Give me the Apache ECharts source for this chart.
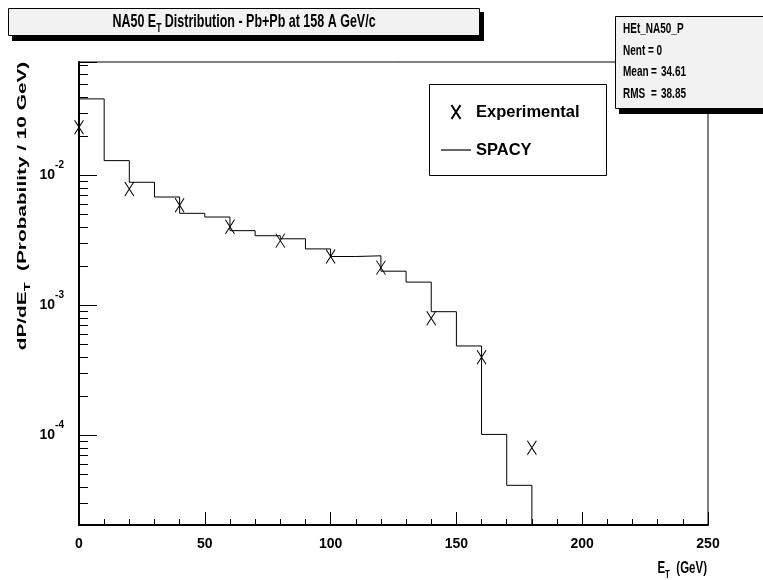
<!DOCTYPE html>
<html>
<head>
<meta charset="utf-8">
<script src="https://cdn.jsdelivr.net/npm/echarts@6/dist/echarts.min.js"></script>
<style>
html,body{margin:0;padding:0;background:#fff;}
#c{width:763px;height:580px;}
</style>
</head>
<body>
<div id="c"></div>
<script>
// ---- data ----
const binEdges = [0, 10, 20, 30, 40, 50, 60, 70, 80, 90, 100, 110, 120, 130, 140, 150, 160, 170, 180];
const spacyValues = [0.0385, 0.0129, 0.00879, 0.00677, 0.00507, 0.00475, 0.00373, 0.00341, 0.00323,
  0.0027, 0.00236, 0.00239, 0.00182, 0.0015, 0.000888, 0.000484, 0.000101, 0.000041];
const expEt = [0, 20, 40, 60, 80, 100, 120, 140, 160, 180];
const expValues = [0.0233, 0.0078, 0.00585, 0.0040, 0.00313, 0.00236, 0.00194, 0.00079, 0.000396, 0.0000798];
const yDecades = [-4, -3, -2];
const yMinorTicks = [3e-5, 4e-5, 5e-5, 6e-5, 7e-5, 8e-5, 9e-5,
  2e-4, 3e-4, 4e-4, 5e-4, 6e-4, 7e-4, 8e-4, 9e-4,
  2e-3, 3e-3, 4e-3, 5e-3, 6e-3, 7e-3, 8e-3, 9e-3,
  2e-2, 3e-2, 4e-2, 5e-2, 6e-2, 7e-2];
const seriesNames = ['Experimental', 'SPACY'];
const statsLines = [['HEt_NA50_P', '', ''], ['Nent = 0', '', ''], ['Mean', '=', '34.61'], ['RMS', '=', '38.85']];

const Y_MIN = 2.03e-5, Y_MAX = 0.074;
const SANS = "'Liberation Sans', Arial, Helvetica, sans-serif";

// histogram outline points (step at bin edges, dropping to axis at last edge)
const spacyData = [];
for (let i = 0; i < spacyValues.length; i++) spacyData.push([binEdges[i], spacyValues[i]]);
spacyData.push([binEdges[binEdges.length - 1], spacyValues[spacyValues.length - 1]]);
spacyData.push([binEdges[binEdges.length - 1], Y_MIN * 0.5]);

const expData = expEt.map((x, i) => [x, expValues[i]]);

const chart = echarts.init(document.getElementById('c'), null, {renderer: 'canvas'});

const graphics = [
  // title box with shadow
  {type: 'rect', z: 10, shape: {x: 12, y: 12, width: 472, height: 29}, style: {fill: '#000'}},
  {type: 'rect', z: 11, shape: {x: 8.5, y: 8.5, width: 471, height: 27}, style: {fill: '#f2f2f2', stroke: '#000', lineWidth: 1}},
  {type: 'text', z: 12, x: 244, y: 22, scaleY: 1.45,
    style: {text: '{n|NA50 E}{s|T}{n| Distribution - Pb+Pb at 158 A GeV/c}', align: 'center', verticalAlign: 'middle',
      rich: {n: {fontFamily: SANS, fontWeight: 'bold', fontSize: 12.5, lineHeight: 18, verticalAlign: 'middle', fill: '#000'},
             s: {fontFamily: SANS, fontWeight: 'bold', fontSize: 8.5, verticalAlign: 'bottom', fill: '#000'}}}},
  // stats box with shadow
  {type: 'rect', z: 10, shape: {x: 619, y: 21, width: 160, height: 93}, style: {fill: '#000'}},
  {type: 'rect', z: 11, shape: {x: 615.5, y: 16.5, width: 160, height: 92}, style: {fill: '#f2f2f2', stroke: '#000', lineWidth: 1}},
  // legend box
  {type: 'rect', z: 1, shape: {x: 429.5, y: 84.5, width: 177, height: 91}, style: {fill: '#fff', stroke: '#000', lineWidth: 1}},
  // y axis title
  {type: 'text', z: 12, x: 22, y: 206, rotation: Math.PI / 2, scaleX: 1.6,
    style: {text: '{n|dP/dE}{s|T}{n|  (Probability / 10 GeV)}', align: 'center', verticalAlign: 'middle',
      rich: {n: {fontFamily: SANS, fontWeight: 'bold', fontSize: 13, lineHeight: 20, verticalAlign: 'middle', fill: '#000'},
             s: {fontFamily: SANS, fontWeight: 'bold', fontSize: 9, verticalAlign: 'bottom', fill: '#000'}}}},
  // x axis title
  {type: 'text', z: 12, x: 707, y: 568, scaleY: 1.45,
    style: {text: '{n|E}{s|T}{n|  (GeV)}', align: 'right', verticalAlign: 'middle',
      rich: {n: {fontFamily: SANS, fontWeight: 'bold', fontSize: 11.5, lineHeight: 18, verticalAlign: 'middle', fill: '#000'},
             s: {fontFamily: SANS, fontWeight: 'bold', fontSize: 8, verticalAlign: 'bottom', fill: '#000'}}}}
];
const statsY = [29, 51.5, 72.5, 94];
statsLines.forEach((ln, i) => {
  graphics.push({type: 'text', z: 12, x: 623, y: statsY[i], scaleY: 1.45,
    style: {text: ln[0], fontFamily: SANS, fontWeight: 'bold', fontSize: 10, align: 'left', verticalAlign: 'middle', fill: '#000'}});
  if (ln[1]) graphics.push({type: 'text', z: 12, x: 654, y: statsY[i], scaleY: 1.45,
    style: {text: ln[1], fontFamily: SANS, fontWeight: 'bold', fontSize: 10, align: 'center', verticalAlign: 'middle', fill: '#000'}});
  if (ln[2]) graphics.push({type: 'text', z: 12, x: 661, y: statsY[i], scaleY: 1.45,
    style: {text: ln[2], fontFamily: SANS, fontWeight: 'bold', fontSize: 10, align: 'left', verticalAlign: 'middle', fill: '#000'}});
});

const option = {
  animation: false,
  backgroundColor: '#fff',
  grid: {left: 79, top: 62, width: 629, height: 463, show: true, borderColor: '#000', borderWidth: 1, backgroundColor: 'transparent'},
  legend: {
    data: [{name: seriesNames[0]}, {name: seriesNames[1], icon: 'path://M0,0H30V1.2H0Z'}],
    orient: 'vertical',
    left: 441, top: 102,
    padding: 0,
    itemGap: 18,
    itemWidth: 30, itemHeight: 14,
    symbolKeepAspect: true,
    textStyle: {fontFamily: SANS, fontWeight: 'bold', fontSize: 16.5, color: '#000', lineHeight: 20},
    selectedMode: false
  },
  xAxis: {
    type: 'value', min: 0, max: 250, interval: 50,
    axisLine: {show: true, onZero: false, lineStyle: {color: '#000', width: 2}},
    axisTick: {show: true, inside: true, length: 13, lineStyle: {color: '#000', width: 1}},
    minorTick: {show: true, splitNumber: 5, length: 6, lineStyle: {color: '#000', width: 1}},
    splitLine: {show: false},
    axisLabel: {margin: 12, fontFamily: SANS, fontWeight: 'bold', fontSize: 14, color: '#000'}
  },
  yAxis: {
    type: 'log', logBase: 10, min: Y_MIN, max: Y_MAX,
    axisLine: {show: true, onZero: false, lineStyle: {color: '#000', width: 2}},
    axisTick: {show: true, inside: true, length: 18, lineStyle: {color: '#000', width: 1}},
    splitLine: {show: false},
    axisLabel: {
      margin: 15,
      formatter: function (v) {
        const l = Math.log10(v);
        const r = Math.round(l);
        if (Math.abs(l - r) > 1e-6 || yDecades.indexOf(r) < 0) return '';
        return '{a|10}{b|' + r + '}';
      },
      rich: {
        a: {fontFamily: SANS, fontWeight: 'bold', fontSize: 14, lineHeight: 30, verticalAlign: 'middle', color: '#000'},
        b: {fontFamily: SANS, fontWeight: 'bold', fontSize: 10, verticalAlign: 'top', color: '#000'}
      }
    }
  },
  graphic: graphics,
  series: [
    {
      name: 'SPACY', type: 'line', data: spacyData, step: 'end',
      symbol: 'none', showSymbol: false, clip: true,
      lineStyle: {color: '#000', width: 1}, itemStyle: {color: '#000'}, z: 3
    },
    {
      name: 'Experimental', type: 'scatter', data: expData,
      symbol: 'path://M0,0L9,14M9,0L0,14', symbolSize: [9, 14], symbolKeepAspect: false, clip: false,
      itemStyle: {color: '#000', borderColor: '#000', borderWidth: 1, opacity: 1}, z: 4
    },
    {
      name: 'yMinorTicks', type: 'custom', silent: true, clip: false,
      data: yMinorTicks.map(v => [0, v]),
      renderItem: function (params, api) {
        const p = api.coord([0, api.value(1)]);
        const y = Math.round(p[1]) + 0.5;
        return {type: 'line', shape: {x1: p[0], y1: y, x2: p[0] + 9, y2: y}, style: {stroke: '#000', lineWidth: 1}};
      }
    }
  ]
};
chart.setOption(option);
</script>
</body>
</html>
